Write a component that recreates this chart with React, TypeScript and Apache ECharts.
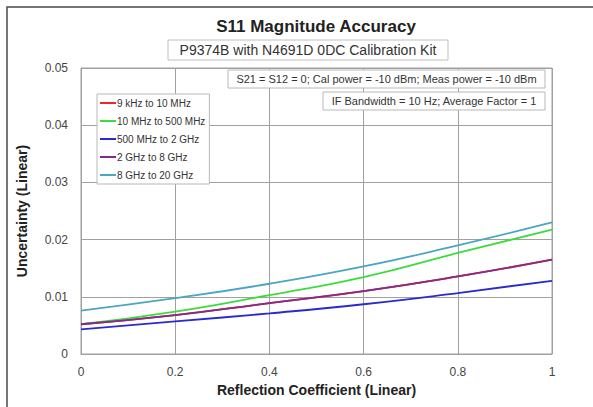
import React, { useEffect, useRef } from "react";
import * as echarts from "echarts";

const xValues = [0, 0.2, 0.4, 0.6, 0.8, 1];
const seriesNames = ["9 kHz to 10 MHz", "10 MHz to 500 MHz", "500 MHz to 2 GHz", "2 GHz to 8 GHz", "8 GHz to 20 GHz"];
const red9k = [0.0052, 0.0068, 0.0089, 0.011, 0.01356, 0.0165];
const green10M = [0.0052, 0.0074, 0.0103, 0.01345, 0.01766, 0.02175];
const blue500M = [0.0043, 0.0057, 0.0071, 0.0087, 0.01065, 0.0128];
const purple2G = [0.0052, 0.0068, 0.0089, 0.011, 0.01356, 0.0165];
const cyan8G = [0.0076, 0.00977, 0.01228, 0.0153, 0.019, 0.023];
const seriesColors = ["#e8282d", "#3ddc3d", "#2a2ad0", "#862a8a", "#4aa6c4"];
const xTicks = [0, 0.2, 0.4, 0.6, 0.8, 1];
const yTicks = [0, 0.01, 0.02, 0.03, 0.04, 0.05];

const FONT = "Liberation Sans, Arial, sans-serif";

export default function App() {
  const ref = useRef<HTMLDivElement>(null);
  useEffect(() => {
    if (!ref.current) return;
    const chart = echarts.init(ref.current, undefined, { renderer: "svg" });
    const allData = [red9k, green10M, blue500M, purple2G, cyan8G];
    const series = allData.map((vals, i) => ({
      name: seriesNames[i],
      type: "line",
      smooth: true,
      showSymbol: false,
      data: xValues.map((x, j) => [x, vals[j]]),
      lineStyle: { color: seriesColors[i], width: 1.8 },
      itemStyle: { color: seriesColors[i] },
    }));
    chart.setOption({
      animation: false,
      backgroundColor: "#ffffff",
      textStyle: { fontFamily: FONT },
      grid: {
        left: 81,
        right: 41,
        top: 68,
        bottom: 53,
        show: true,
        borderColor: "#a0a0a0",
        borderWidth: 1,
      },
      legend: {
        orient: "vertical",
        left: 97,
        top: 94,
        padding: [3, 4, 3, 3],
        itemGap: 6,
        itemWidth: 16,
        itemHeight: 2,
        icon: "rect",
        backgroundColor: "#ffffff",
        borderColor: "#b8b8b8",
        borderWidth: 1,
        textStyle: { fontFamily: FONT, fontSize: 10, color: "#333", lineHeight: 12, padding: [0, 0, 0, -4] },
        data: seriesNames,
      },
      xAxis: {
        type: "value",
        min: 0,
        max: 1,
        interval: 0.2,
        name: "Reflection Coefficient (Linear)",
        nameLocation: "middle",
        nameGap: 26,
        nameTextStyle: { fontFamily: FONT, fontSize: 14, fontWeight: "bold", color: "#222" },
        axisLine: { show: true, lineStyle: { color: "#a0a0a0" } },
        axisTick: { show: false },
        splitLine: { show: true, lineStyle: { color: "#a0a0a0", width: 1 } },
        axisLabel: {
          fontFamily: FONT,
          fontSize: 12,
          color: "#444",
          margin: 12,
          formatter: (v: number) => (xTicks.includes(Math.round(v * 10) / 10) ? String(Math.round(v * 10) / 10) : ""),
        },
      },
      yAxis: {
        type: "value",
        min: 0,
        max: 0.05,
        interval: 0.01,
        name: "Uncertainty (Linear)",
        nameLocation: "middle",
        nameGap: 52,
        nameTextStyle: { fontFamily: FONT, fontSize: 14, fontWeight: "bold", color: "#222" },
        axisLine: { show: true, lineStyle: { color: "#a0a0a0" } },
        axisTick: { show: false },
        splitLine: { show: true, lineStyle: { color: "#a0a0a0", width: 1 } },
        axisLabel: {
          fontFamily: FONT,
          fontSize: 12,
          color: "#444",
          margin: 13,
          formatter: (v: number) => {
            const r = Math.round(v * 100) / 100;
            return yTicks.includes(r) ? String(r) : "";
          },
        },
      },
      graphic: [
        {
          type: "rect",
          shape: { x: 7, y: 7, width: 700, height: 600 },
          style: { fill: "none", stroke: "#4a4a4a", lineWidth: 1.5 },
          z: 100,
        },
        {
          type: "text",
          x: 316,
          y: 26,
          style: {
            text: "S11 Magnitude Accuracy",
            fontFamily: FONT,
            fontSize: 17,
            fontWeight: "bold",
            fill: "#222",
            textAlign: "center",
            textVerticalAlign: "middle",
          },
        },
        {
          type: "rect",
          shape: { x: 168, y: 40, width: 280, height: 20 },
          style: { fill: "#ffffff", stroke: "#c0c0c0", lineWidth: 1 },
          z: 50,
        },
        {
          type: "text",
          x: 308,
          y: 50,
          z: 51,
          style: {
            text: "P9374B with N4691D 0DC Calibration Kit",
            fontFamily: FONT,
            fontSize: 14,
            fill: "#333",
            textAlign: "center",
            textVerticalAlign: "middle",
          },
        },
        {
          type: "rect",
          shape: { x: 228, y: 70, width: 317, height: 18 },
          style: { fill: "#ffffff", stroke: "#b8b8b8", lineWidth: 1 },
          z: 50,
        },
        {
          type: "text",
          x: 386.5,
          y: 79,
          z: 51,
          style: {
            text: "S21 = S12 = 0; Cal power = -10 dBm; Meas power = -10 dBm",
            fontFamily: FONT,
            fontSize: 11,
            fill: "#333",
            textAlign: "center",
            textVerticalAlign: "middle",
          },
        },
        {
          type: "rect",
          shape: { x: 323, y: 92, width: 222, height: 18 },
          style: { fill: "#ffffff", stroke: "#b8b8b8", lineWidth: 1 },
          z: 50,
        },
        {
          type: "text",
          x: 434,
          y: 101,
          z: 51,
          style: {
            text: "IF Bandwidth = 10 Hz; Average Factor = 1",
            fontFamily: FONT,
            fontSize: 11,
            fill: "#333",
            textAlign: "center",
            textVerticalAlign: "middle",
          },
        },
      ],
      series,
    });
    return () => chart.dispose();
  }, []);
  return (
    <div
      ref={ref}
      style={{ position: "fixed", left: 0, top: 0, width: 593, height: 407, background: "#fff" }}
    />
  );
}
